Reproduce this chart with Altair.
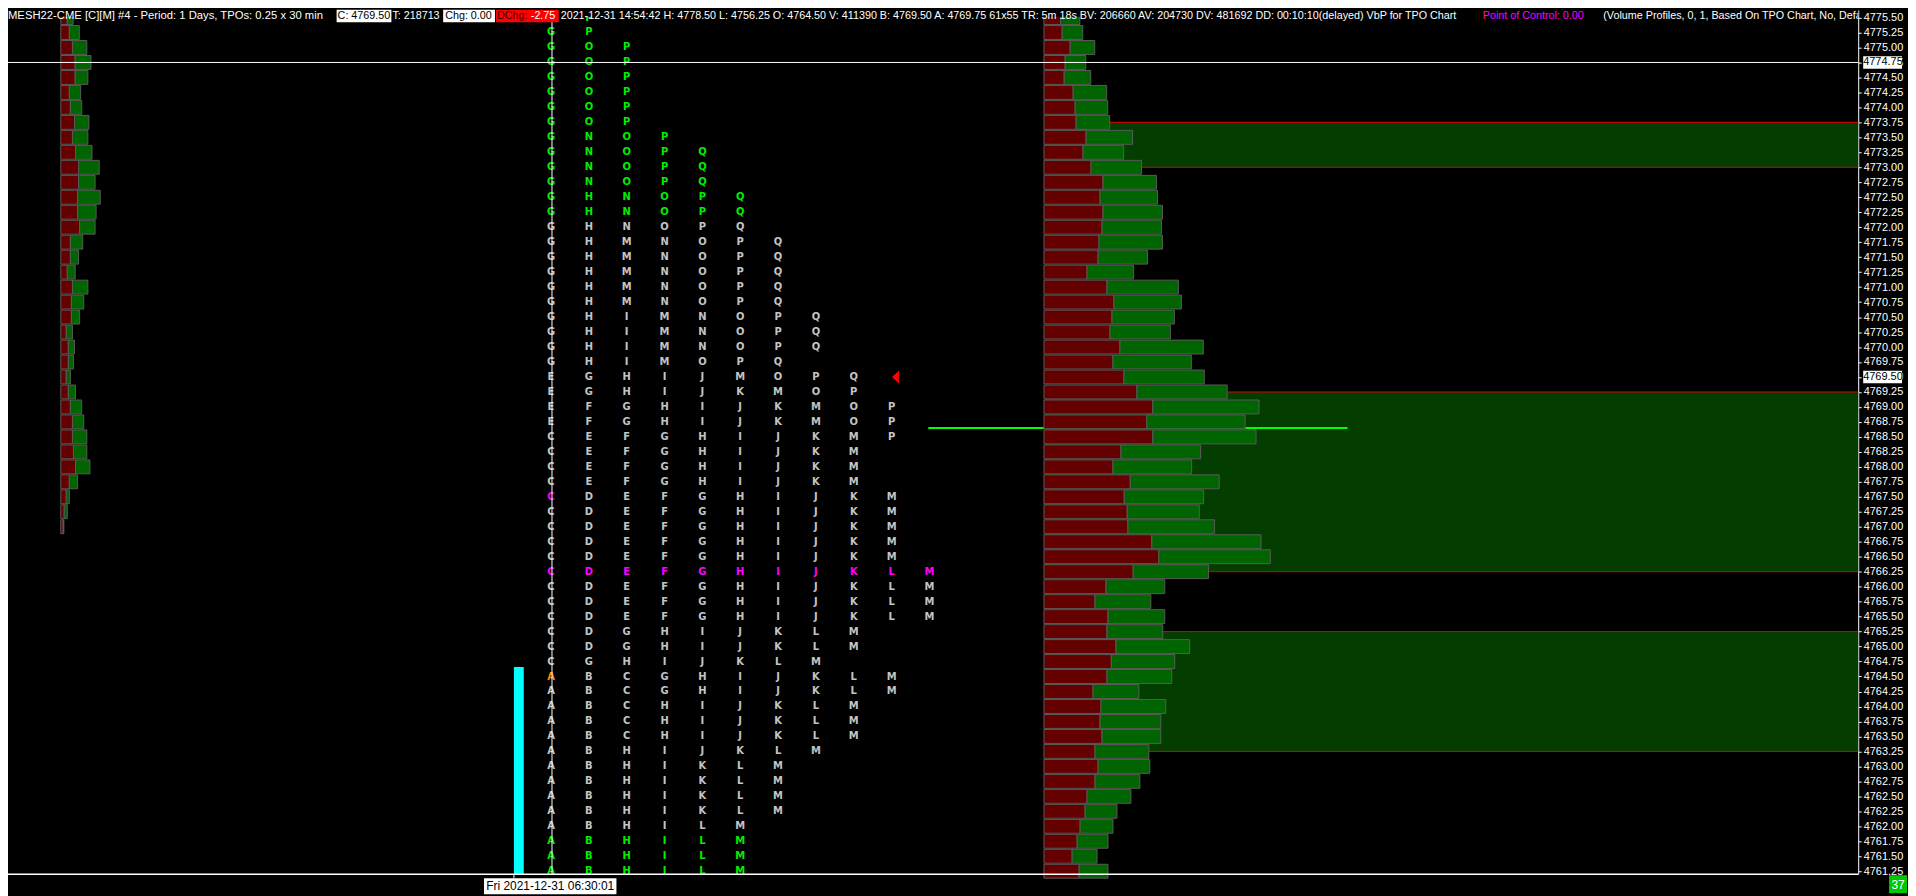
import altair as alt
import pandas as pd

# ---------------- data ----------------
TOP_PRICE = 4775.50
TICK = 0.25
PRICES = [round(TOP_PRICE - TICK * i, 2) for i in range(58)]

TPO_ROWS = [
    "GP", "GP", "GOP", "GOP", "GOP", "GOP", "GOP", "GOP",
    "GNOP", "GNOPQ", "GNOPQ", "GNOPQ", "GHNOPQ", "GHNOPQ", "GHNOPQ",
    "GHMNOPQ", "GHMNOPQ", "GHMNOPQ", "GHMNOPQ", "GHMNOPQ",
    "GHIMNOPQ", "GHIMNOPQ", "GHIMNOPQ", "GHIMOPQ",
    "EGHIJMOPQ", "EGHIJKMOP", "EFGHIJKMOP", "EFGHIJKMOP", "CEFGHIJKMP",
    "CEFGHIJKM", "CEFGHIJKM", "CEFGHIJKM",
    "CDEFGHIJKM", "CDEFGHIJKM", "CDEFGHIJKM", "CDEFGHIJKM", "CDEFGHIJKM",
    "CDEFGHIJKLM", "CDEFGHIJKLM", "CDEFGHIJKLM", "CDEFGHIJKLM",
    "CDGHIJKLM", "CDGHIJKLM", "CGHIJKLM",
    "ABCGHIJKLM", "ABCGHIJKLM", "ABCHIJKLM", "ABCHIJKLM", "ABCHIJKLM",
    "ABHIJKLM", "ABHIKLM", "ABHIKLM", "ABHIKLM", "ABHIKLM",
    "ABHILM", "ABHILM", "ABHILM", "ABHILM",
]
GREEN_ROWS = list(range(0, 14)) + [55, 56, 57]
MAGENTA_ROWS = [37]
SPECIAL_CELLS = {(32, 0): "magenta", (44, 0): "orange"}

# volume profile (right), per price row from 4775.50 down
VP_BID = [500, 550, 790, 640, 610, 880, 940, 970, 1270, 1180, 1420, 1780, 1690, 1780, 1750,
          1660, 1630, 1300, 1900, 2110, 2050, 1990, 2290, 2080, 2410, 2800, 3280, 3100, 3280,
          2320, 2080, 2600, 2420, 2510, 2530, 3250, 3460, 2690, 1870, 1540, 1930, 1900, 2170,
          2030, 1900, 1480, 1720, 1690, 1750, 1540, 1630, 1540, 1300, 1240, 1090, 1000, 850, 1060]
VP_ASK = [580, 620, 740, 620, 800, 1010, 980, 1010, 1400, 1220, 1520, 1610, 1730, 1790, 1790,
          1910, 1490, 1400, 2150, 2030, 1880, 1820, 2510, 2360, 2420, 2720, 3200, 2960, 3110,
          2400, 2370, 2680, 2390, 2170, 2610, 3290, 3360, 2270, 1770, 1680, 1710, 1680, 2220,
          1910, 1950, 1380, 1950, 1830, 1770, 1620, 1560, 1350, 1320, 960, 990, 930, 750, 870]

# small profile (left), rows from 4775.50 down to 4767.00
MINI_BID = [190, 250, 340, 420, 420, 250, 280, 400, 340, 430, 520, 520, 490, 490, 550, 280, 280,
            190, 340, 310, 310, 160, 220, 220, 160, 220, 280, 340, 340, 370, 430, 250, 160, 100, 70]
MINI_ASK = [170, 290, 420, 460, 370, 330, 330, 420, 450, 480, 600, 480, 660, 540, 450, 360, 240,
            230, 450, 360, 240, 180, 180, 150, 120, 210, 330, 330, 420, 390, 420, 240, 90, 90, 20]

VALUE_AREAS_HI = [4773.75, 4769.25, 4765.25]
VALUE_AREAS_LO = [4773.00, 4766.25, 4763.25]

LAST_PRICE = 4769.50
CURSOR_PRICE = 4774.75
POC_LINE_PRICE = 4768.65
DAY_VOLUME_LEVEL = 4764.66

HEADER_MAIN = "MESH22-CME [C][M]  #4 - Period: 1 Days, TPOs: 0.25 x 30 min"
HEADER_C = "C: 4769.50"
HEADER_T = "T: 218713"
HEADER_CHG = "Chg: 0.00"
HEADER_DCHG = "DChg:"
HEADER_DCHG_V = "-2.75"
HEADER_INFO = ("2021-12-31 14:54:42 H: 4778.50 L: 4756.25 O: 4764.50 V: 411390 B: 4769.50 "
               "A: 4769.75 61x55 TR: 5m 18s BV: 206660 AV: 204730 DV: 481692 "
               "DD: 00:10:10(delayed) VbP for TPO Chart")
HEADER_POC = "Point of Control: 0.00"
HEADER_STUDY = "(Volume Profiles, 0, 1, Based On TPO Chart, No, Default)"
DATE_LABEL = "Fri 2021-12-31  06:30:01"
BADGE = "37"

# ---------------- style ----------------
C_GRAY = "#c4c4c4"
C_GREEN = "#00ee00"
C_MAG = "#ff00ff"
C_ORANGE = "#ff8800"
C_RED_BAR = "#650000"
C_GREEN_BAR = "#006400"
C_OUTLINE = "#5a5a5a"
C_BAND = "#033e00"

W, H = 1858, 868
HALF = 0.116  # half row height in price units

YS = alt.Scale(domain=[4761.200, 4775.628], nice=False, zero=False)
Y_AX = alt.Axis(orient="right", values=PRICES, format=".2f", labelColor="#ffffff",
                labelFont="Liberation Sans", labelFontSize=11, tickColor="#ffffff",
                tickSize=3, domainColor="#ffffff", labelPadding=2, grid=False,
                title=None, labelOverlap=False, labelFlush=False)


def Y(f):
    return alt.Y(f"{f}:Q", scale=YS, axis=Y_AX)


def col_scale():
    return alt.Scale(domain=[0, 10], range=[545.3, 925.3], nice=False, zero=False)


def vp_scale():
    return alt.Scale(domain=[0, 3000], range=[1040.3, 1140.3], nice=False, zero=False)


def mini_scale():
    return alt.Scale(domain=[0, 2904], range=[53, 153], nice=False, zero=False)


# ---------------- tables ----------------
color_map = {"gray": C_GRAY, "green": C_GREEN, "magenta": C_MAG, "orange": C_ORANGE}
recs = []
for i, row in enumerate(TPO_ROWS):
    for j, ch in enumerate(row):
        c = "gray"
        if i in GREEN_ROWS:
            c = "green"
        if i in MAGENTA_ROWS:
            c = "magenta"
        c = SPECIAL_CELLS.get((i, j), c)
        recs.append({"price": PRICES[i], "col": j, "letter": ch, "color": color_map[c]})
tpo = pd.DataFrame(recs)

vp = pd.DataFrame({"price": PRICES, "bid": VP_BID, "ask": VP_ASK})
vp["top"] = vp["price"] + HALF
vp["bot"] = vp["price"] - HALF
vp["zero"] = 0
vp["tot"] = vp["bid"] + vp["ask"]

mini = pd.DataFrame({"price": PRICES[:len(MINI_BID)], "bid": MINI_BID, "ask": MINI_ASK})
mini["top"] = mini["price"] + HALF
mini["bot"] = mini["price"] - HALF
mini["zero"] = 0
mini["tot"] = mini["bid"] + mini["ask"]

va = pd.DataFrame({"hi": VALUE_AREAS_HI, "lo": VALUE_AREAS_LO, "zero": 0})
va_lines = pd.DataFrame({"price": VALUE_AREAS_HI + VALUE_AREAS_LO, "zero": 0})
one = pd.DataFrame({"k": [0]})

layers = []

# value area bands
layers.append(alt.Chart(va).mark_rect(color=C_BAND).encode(
    x=alt.X("zero:Q", scale=vp_scale(), axis=None), x2=alt.value("width"),
    y=Y("hi"), y2="lo"))
layers.append(alt.Chart(va_lines).mark_rule(color="#e00000", strokeWidth=1).encode(
    x=alt.X("zero:Q", scale=vp_scale(), axis=None), x2=alt.value("width"),
    y=Y("price")))

# POC-ish green line (behind bars)
layers.append(alt.Chart(pd.DataFrame({"price": [POC_LINE_PRICE], "a": [9.97], "b": [21.05]}))
              .mark_rule(color="#00ff00", strokeWidth=2).encode(
    x=alt.X("a:Q", scale=col_scale(), axis=None), x2="b:Q", y=Y("price")))

# right volume profile
layers.append(alt.Chart(vp).mark_rect(fill=C_RED_BAR, stroke=C_OUTLINE, strokeWidth=1).encode(
    x=alt.X("zero:Q", scale=vp_scale(), axis=None), x2="bid:Q", y=Y("top"), y2="bot"))
layers.append(alt.Chart(vp).mark_rect(fill=C_GREEN_BAR, stroke=C_OUTLINE, strokeWidth=1).encode(
    x=alt.X("bid:Q", scale=vp_scale(), axis=None), x2="tot:Q", y=Y("top"), y2="bot"))

# left small profile
layers.append(alt.Chart(mini).mark_rect(fill=C_RED_BAR, stroke=C_OUTLINE, strokeWidth=1).encode(
    x=alt.X("zero:Q", scale=mini_scale(), axis=None), x2="bid:Q", y=Y("top"), y2="bot"))
layers.append(alt.Chart(mini).mark_rect(fill=C_GREEN_BAR, stroke=C_OUTLINE, strokeWidth=1).encode(
    x=alt.X("bid:Q", scale=mini_scale(), axis=None), x2="tot:Q", y=Y("top"), y2="bot"))

# day volume bar (cyan)
layers.append(alt.Chart(pd.DataFrame({"price": [DAY_VOLUME_LEVEL], "a": [-0.98], "b": [-0.72]}))
              .mark_rect(color="#00ffff").encode(
    x=alt.X("a:Q", scale=col_scale(), axis=None), x2="b:Q", y=Y("price"), y2=alt.value("height")))

# TPO letters
layers.append(alt.Chart(tpo).mark_text(font="DejaVu Sans", fontSize=10, fontWeight="bold",
                                       align="center", baseline="middle").encode(
    x=alt.X("col:Q", scale=col_scale(), axis=None), y=Y("price"),
    text="letter:N", color=alt.Color("color:N", scale=None)))

# last price marker
layers.append(alt.Chart(pd.DataFrame({"price": [LAST_PRICE], "col": [9.105]}))
              .mark_point(shape="M0.55,-1L0.55,1L-0.55,0Z", filled=True, color="#ff0000",
                          size=169, opacity=1).encode(
    x=alt.X("col:Q", scale=col_scale(), axis=None), y=Y("price")))

# crosshair
layers.append(alt.Chart(pd.DataFrame({"price": [CURSOR_PRICE]})).mark_rule(
    color="#ffffff", strokeWidth=1).encode(
    y=Y("price"), x=alt.value(0), x2=alt.value("width")))
layers.append(alt.Chart(pd.DataFrame({"col": [0.026]})).mark_rule(
    color="#ffffff", strokeWidth=1).encode(
    x=alt.X("col:Q", scale=col_scale(), axis=None), y=alt.value(0), y2=alt.value("height")))

# bottom frame line + tick
layers.append(alt.Chart(one).mark_rule(color="#ffffff", strokeWidth=1.5).encode(
    x=alt.value(0), x2=alt.value("width"), y=alt.value("height")))
layers.append(alt.Chart(pd.DataFrame({"col": [-0.98]})).mark_rule(
    color="#ffffff", strokeWidth=1).encode(
    x=alt.X("col:Q", scale=col_scale(), axis=None), y=alt.value(H), y2=alt.value(H + 4)))

# top header band
layers.append(alt.Chart(one).mark_rect(color="#000000").encode(
    x=alt.value(0), x2=alt.value("width"), y=alt.value(0), y2=alt.value(7)))

HF = "Liberation Sans"
HS = 10.8


def box(x0, x1, y0, y1, color):
    return alt.Chart(one).mark_rect(color=color).encode(
        x=alt.value(x0), x2=alt.value(x1), y=alt.value(y0), y2=alt.value(y1))


def txt(s, x, y, color, align="left", clip=False, font=HF, size=HS, baseline="alphabetic"):
    return alt.Chart(one).mark_text(text=s, font=font, fontSize=size, align=align,
                                    baseline=baseline, color=color, clip=clip).encode(
        x=alt.value(x), y=alt.value(y))


HB = 9.5
layers += [
    box(330, 385, 0, 12.5, "#ffffff"),
    box(437, 489, 0, 12.5, "#ffffff"),
    box(490, 553, 0, 12.5, "#ff0000"),
    txt(HEADER_MAIN, 0, HB, "#ffffff", size=11.3),
    txt(HEADER_C, 331, HB, "#000000"),
    txt(HEADER_T, 386, HB, "#ffffff"),
    txt(HEADER_CHG, 439, HB, "#000000"),
    txt(HEADER_DCHG, 491, HB, "#3a0000"),
    txt(HEADER_DCHG_V, 525, HB, "#ffffff"),
    txt(HEADER_INFO, 555, HB, "#ffffff"),
    txt(HEADER_POC, 1481, HB, C_MAG),
    txt(HEADER_STUDY, 1602, HB, "#ffffff", clip=True),
]

# highlighted axis labels
hl = pd.DataFrame({"price": [CURSOR_PRICE, LAST_PRICE]})
hl["top"] = hl["price"] + 0.105
hl["bot"] = hl["price"] - 0.105
hl["lab"] = hl["price"].map(lambda v: f"{v:.2f}")
layers.append(alt.Chart(hl).mark_rect(color="#ffffff").encode(
    x=alt.value(W + 5), x2=alt.value(W + 44), y=Y("top"), y2="bot"))
layers.append(alt.Chart(hl).mark_text(font="Liberation Sans", fontSize=11, align="left",
                                      baseline="middle", color="#000000").encode(
    x=alt.value(W + 5), y=Y("price"), text="lab:N"))

# bottom date box and badge
layers += [
    box(478, 611, H + 4, H + 20, "#ffffff"),
    txt(DATE_LABEL, 544.5, H + 16, "#000000", align="center", size=12),
    box(W + 31, W + 49, H + 1, H + 19, "#00c800"),
    txt(BADGE, W + 40, H + 15, "#ffffff", align="center", size=12),
]

chart = alt.layer(*layers).resolve_scale(x="independent").properties(
    width=W, height=H, background="#000000",
    padding={"left": 0, "top": 0, "right": 50, "bottom": 20},
    autosize=alt.AutoSizeParams(type="none"),
).configure_view(stroke="transparent")

chart.save("out.html", embed_options={"renderer": "svg", "actions": False})
